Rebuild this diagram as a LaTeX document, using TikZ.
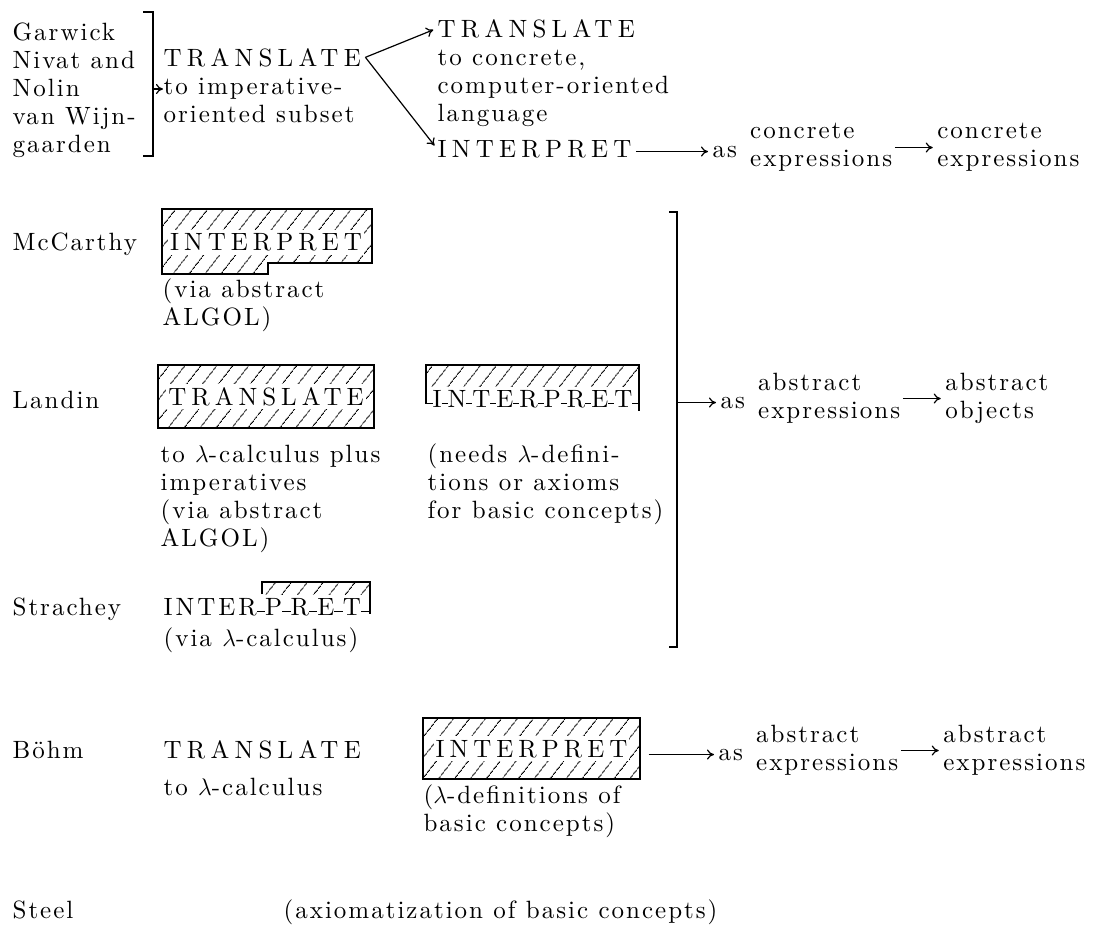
\documentclass[tikz,border=0pt]{standalone}
\usepackage{fontspec}
\usepackage{amsmath}
\setmainfont{lmroman10-regular.otf}
\usetikzlibrary{positioning,arrows.meta,patterns.meta,backgrounds,calc}

\newcommand\lnkrule[1][3pt]{\rule[1.5pt]{#1}{0.5pt}}
\newcommand\txtfont[1]{\fontsize{12.5}{14}\selectfont\addfontfeatures{LetterSpace=#1}}

\tikzset{
  >={To[length=3.5pt,width=5pt]},
  every node/.style={font=\txtfont{8}, inner sep=0pt},
  % --- nodes
  blk/.style   = {anchor=north west, align=left},
  lbl/.style   = {anchor=base west},
  caps/.style  = {anchor=base west, font=\txtfont{21}},
  capsw/.style = {font=\txtfont{20}, fill=white, text height=8.5pt, text depth=0pt,
                  inner xsep=1pt, inner ysep=2pt},
  lnkd/.style  = {anchor=base west, font=\txtfont{12}, fill=white, text height=8.5pt,
                  text depth=0pt, inner xsep=0pt, inner ysep=1.5pt},
  hatch/.style = {pattern={Lines[angle=52,distance=6.5pt,line width=0.5pt]}},
  hbox/.style  = {draw, hatch, inner sep=0pt},
  % --- edges
  e/.style     = {->, shorten >=2pt},
}

\begin{document}
\begin{tikzpicture}[x=0.5pt,y=-0.5pt,line width=0.6pt]
  \useasboundingbox (0,0) rectangle (1100,950);

  % Garwick / Nivat and Nolin / van Wijngaarden
  \node[blk] (names) at (12,20) {\strut Garwick\\Nivat and\\Nolin\\van Wijn-\\gaarden};
  \draw (143,12) -- (153,12) -- (153,156) -- (143,156);
  \coordinate (lb) at (153,89);
  \node[caps] (tl) at (163,66) {TRANSLATE};
  \node[blk] (imp) at (163,74) {\strut to imperative-\\oriented subset};
  \draw[->] (lb) -- (lb -| imp.west);
  \coordinate (fork) at ([xshift=2pt]tl.east);
  \node[caps] (tr) at (437,37) {TRANSLATE};
  \node[blk] (conc) at (437,45) {\strut to concrete,\\computer-oriented\\language};
  \node[caps] (ri) at (437,157) {INTERPRET};
  \draw[e] (fork) -- (tr.west);
  \draw[e] (fork) -- (ri.west);
  \node[lbl] (as1) at (712,157) {as};
  \draw[e, shorten <=2pt] (ri.east |- as1.west) -- (as1.west);
  \node[blk, right=6pt of as1, yshift=2pt] (ce1) {concrete\\expressions};
  \node[blk, right=22pt of ce1] (ce2) {concrete\\expressions};
  \draw[e, shorten <=1pt] (ce1) -- (ce2);

  % McCarthy
  \node[lbl] (mcc) at (12,250) {McCarthy};
  \draw[hatch] (162,209) -- (372,209) -- (372,263) -- (268,263) -- (268,274) -- (162,274) -- cycle;
  \node[capsw] (mint) at (266,242) {INTERPRET};
  \node[blk] (mvia) at (162,277) {\strut(via abstract\\ALGOL)};

  % Landin
  \node[lbl] (lan) at (12,408) {Landin};
  \node[hbox, minimum width=108pt, minimum height=31.5pt] (ltb) at (266,396.5) {};
  \node[capsw] (ltr) at (ltb) {TRANSLATE};
  \node[blk] (lto) at (160,442) {\strut to $\lambda$-calculus plus\\imperatives\\(via abstract\\ALGOL)};
  \node[lnkd] (lint) at (426,407) {\lnkrule I\lnkrule N\lnkrule T\lnkrule E\lnkrule R\lnkrule P\lnkrule R\lnkrule E\lnkrule T\lnkrule};
  \coordinate (ltop) at (0,365);
  \coordinate (lbot) at (0,403.5);
  \coordinate (lend) at (0,411);
  \begin{scope}[on background layer]
    \fill[hatch] (lint.west |- ltop) rectangle (lint.east |- lbot);
  \end{scope}
  \draw (lint.west |- lbot) -- (lint.west |- ltop) -- (lint.east |- ltop) -- (lint.east |- lend);
  \node[blk] (lneed) at (427,442) {\strut(needs $\lambda$-defini-\\tions or axioms\\for basic concepts)};

  % Strachey
  \node[lbl] (str) at (12,615) {Strachey};
  \node[lnkd] (sint) at (163,615) {INTER\lnkrule[4.2pt]P\lnkrule[4.2pt]R\lnkrule[4.2pt]E\lnkrule[4.2pt]T\lnkrule[4.2pt]};
  \coordinate (stop) at (262,582);
  \coordinate (sleft) at (262,594);
  \coordinate (sbot) at (0,611.5);
  \coordinate (send) at (0,614);
  \begin{scope}[on background layer]
    \fill[hatch] (stop) rectangle (sint.east |- sbot);
  \end{scope}
  \draw (sleft) -- (stop) -- (sint.east |- stop) -- (sint.east |- send);
  \node[lbl] (sv) at (163,646) {(via $\lambda$-calculus)};

  % common result of McCarthy, Landin, Strachey
  \draw (669,212) -- (677,212) -- (677,647) -- (669,647);
  \coordinate (rb) at (677,0);
  \node[lbl] (as2) at (720,408) {as};
  \draw[e] (rb |- as2.west) -- (as2.west);
  \node[blk, right=6pt of as2, yshift=2pt] (ae2) {abstract\\expressions};
  \node[blk, right=22pt of ae2] (ao2) {abstract\\objects};
  \draw[e, shorten <=1pt] (ae2) -- (ao2);

  % B\"ohm
  \node[lbl] (bo) at (12,758) {Böhm};
  \node[caps] (btr) at (163,758) {TRANSLATE};
  \node[lbl] (blc) at (163,795) {to $\lambda$-calculus};
  \node[hbox, minimum width=108.5pt, minimum height=30.5pt] (bbx) at (531.5,748.5) {};
  \node[capsw] (bint) at (bbx) {INTERPRET};
  \node[blk] (bdef) at (423,783) {\strut($\lambda$-definitions of\\basic concepts)};
  \node[lbl] (as3) at (718,760) {as};
  \draw[e, shorten <=4pt] (bbx.east |- as3.west) -- (as3.west);
  \node[blk, right=6pt of as3, yshift=2pt] (ae3) {abstract\\expressions};
  \node[blk, right=22pt of ae3] (ax3) {abstract\\expressions};
  \draw[e, shorten <=1pt] (ae3) -- (ax3);

  % Steel
  \node[lbl] (stl) at (12,918) {Steel};
  \node[lbl] (axm) at (283,918) {(axiomatization of basic concepts)};
\end{tikzpicture}
\end{document}
